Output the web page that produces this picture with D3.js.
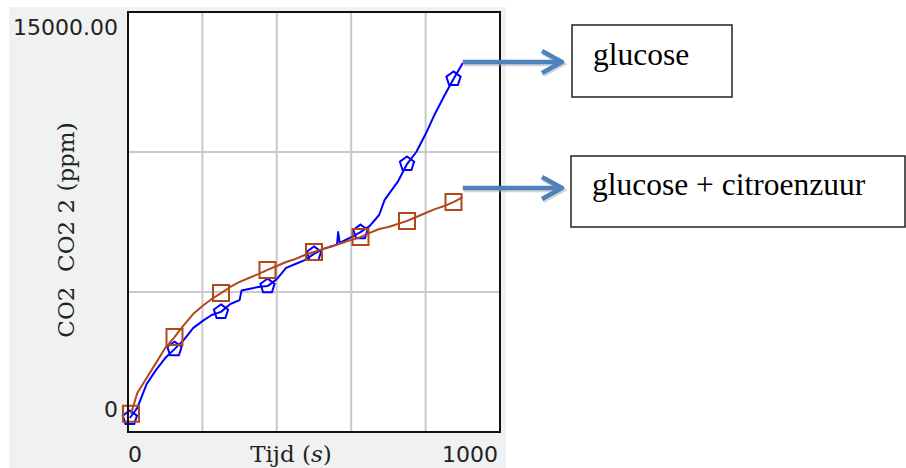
<!DOCTYPE html>
<html>
<head>
<meta charset="utf-8">
<script src="https://cdn.jsdelivr.net/npm/d3@7"></script>
<style>
  body { margin: 0; background: #fff; }
  svg { display: block; }
</style>
</head>
<body>
<div id="chart"></div>
<script>
// glucose (blauw) — tijd in s, CO2 in ppm
const glucoseTime = [5, 25, 50, 75, 100, 125, 150, 175, 200, 225, 250, 275, 300, 305, 325, 350, 375, 400, 425, 450, 475, 500, 525, 550, 562, 565, 569, 600, 625, 650, 675, 690, 700, 725, 750, 775, 800, 825, 850, 875, 900];
const glucoseCO2 = [500, 860, 1710, 2210, 2640, 2960, 3290, 3710, 3960, 4180, 4290, 4570, 4710, 5050, 5110, 5180, 5210, 5460, 5860, 6000, 6140, 6360, 6540, 6640, 6700, 7140, 6750, 6960, 7140, 7360, 7750, 8290, 8480, 8930, 9570, 10000, 10640, 11360, 12000, 12610, 13180];

// glucose + citroenzuur (bruin)
const citroenTime = [8, 25, 50, 75, 100, 125, 150, 175, 200, 225, 250, 275, 300, 325, 350, 375, 400, 425, 450, 475, 500, 525, 550, 575, 600, 625, 650, 675, 700, 725, 750, 775, 800, 825, 850, 875, 900];
const citroenCO2 = [650, 1390, 1930, 2460, 3000, 3390, 3820, 4210, 4500, 4750, 4960, 5180, 5360, 5500, 5640, 5790, 5930, 6070, 6180, 6320, 6430, 6540, 6640, 6750, 6860, 6960, 7110, 7250, 7320, 7430, 7540, 7680, 7820, 7960, 8070, 8210, 8390];

const markerTimes = [5, 8, 125, 250, 375, 500, 625, 750, 875];
const xGridTicks = [200, 400, 600, 800];
const yGridTicks = [5000, 10000];
const legendLabels = ['glucose', 'glucose + citroenzuur'];

const width = 906, height = 468;
const svg = d3.select('#chart').append('svg')
    .attr('width', width)
    .attr('height', height);

// grijs paneel
svg.append('rect')
    .attr('x', 9).attr('y', 7)
    .attr('width', 497).attr('height', 461)
    .attr('fill', '#f0f1f1');

const x = d3.scaleLinear().domain([0, 1000]).range([128, 500]);
const y = d3.scaleLinear().domain([0, 15000]).range([432, 12]);

svg.append('rect')
    .attr('x', x(0)).attr('y', y(15000))
    .attr('width', x(1000) - x(0)).attr('height', y(0) - y(15000))
    .attr('fill', '#fff');

svg.selectAll('.vgrid')
    .data(xGridTicks)
    .enter().append('line')
    .attr('x1', d => x(d)).attr('x2', d => x(d))
    .attr('y1', y(15000)).attr('y2', y(0))
    .attr('stroke', '#c9c9c9').attr('stroke-width', 2);

svg.selectAll('.hgrid')
    .data(yGridTicks)
    .enter().append('line')
    .attr('x1', x(0)).attr('x2', x(1000))
    .attr('y1', d => y(d)).attr('y2', d => y(d))
    .attr('stroke', '#c9c9c9').attr('stroke-width', 2);

const line = d3.line().x(d => x(d.t)).y(d => y(d.v));

const blue = glucoseTime.map((t, i) => ({ t, v: glucoseCO2[i] }));
const brown = citroenTime.map((t, i) => ({ t, v: citroenCO2[i] }));

const series = [
    { data: blue, color: '#0000ff', shape: 'pentagon' },
    { data: brown, color: '#b2481a', shape: 'square' }
];

// vijfhoek
function pentagon(r) {
    const pts = d3.range(5).map(i => {
        const a = -Math.PI / 2 + i * 2 * Math.PI / 5;
        return [r * Math.cos(a), r * Math.sin(a)];
    });
    return d3.line()(pts) + 'Z';
}

series.forEach(s => {
    svg.append('path')
        .datum(s.data)
        .attr('d', line)
        .attr('fill', 'none')
        .attr('stroke', s.color)
        .attr('stroke-width', 2)
        .attr('stroke-linejoin', 'round');

    const marks = s.data.filter(d => markerTimes.includes(d.t));
    svg.selectAll(null)
        .data(marks)
        .enter().append('path')
        .attr('transform', d => `translate(${x(d.t)},${y(d.v)})`)
        .attr('d', s.shape === 'square' ? 'M-8,-8H8V8H-8Z' : pentagon(7.5))
        .attr('fill', 'none')
        .attr('stroke', s.color)
        .attr('stroke-width', 2);
});

// kader
svg.append('rect')
    .attr('x', x(0)).attr('y', y(15000))
    .attr('width', x(1000) - x(0)).attr('height', y(0) - y(15000))
    .attr('fill', 'none')
    .attr('stroke', '#111').attr('stroke-width', 2);

// aslabels
const tickFont = "'DejaVu Sans', Verdana, sans-serif";
svg.append('text')
    .attr('x', x(0) - 10).attr('y', y(15000) + 23)
    .attr('text-anchor', 'end')
    .style('font-family', tickFont).style('font-size', '22px').attr('fill', '#222')
    .text('15000.00');
svg.append('text')
    .attr('x', x(0) - 10).attr('y', y(0) - 15)
    .attr('text-anchor', 'end')
    .style('font-family', tickFont).style('font-size', '22px').attr('fill', '#222')
    .text('0');
svg.append('text')
    .attr('x', x(0)).attr('y', 462)
    .attr('text-anchor', 'start')
    .style('font-family', tickFont).style('font-size', '22px').attr('fill', '#222')
    .text('0');
svg.append('text')
    .attr('x', x(1000) - 2).attr('y', 462)
    .attr('text-anchor', 'end')
    .style('font-family', tickFont).style('font-size', '22px').attr('fill', '#222')
    .text('1000');

const titleFont = "'DejaVu Serif', serif";
const xt = svg.append('text')
    .attr('x', 291).attr('y', 462)
    .attr('text-anchor', 'middle')
    .style('font-family', titleFont).style('font-size', '23px').attr('fill', '#222');
xt.append('tspan').text('Tijd (');
xt.append('tspan').style('font-style', 'italic').text('s');
xt.append('tspan').text(')');

svg.append('text')
    .attr('transform', 'translate(74,230) rotate(-90)')
    .attr('text-anchor', 'middle')
    .style('font-family', titleFont).style('font-size', '23px').attr('fill', '#222')
    .attr('xml:space', 'preserve')
    .style('white-space', 'pre')
    .text('CO2  CO2 2 (ppm)');

// legenda-kaders met pijlen
const boxes = [
    { label: legendLabels[0], x: 572, y: 25, w: 160, h: 72, ay: 62, ty: 65 },
    { label: legendLabels[1], x: 571, y: 156, w: 334, h: 71, ay: 188, ty: 195 }
];

boxes.forEach(b => {
    svg.append('rect')
        .attr('x', b.x).attr('y', b.y)
        .attr('width', b.w).attr('height', b.h)
        .attr('fill', '#fff')
        .attr('stroke', '#222').attr('stroke-width', 1.5);
    svg.append('text')
        .attr('x', b.x + 21).attr('y', b.ty)
        .style('font-family', "'Liberation Serif', 'Times New Roman', serif")
        .style('font-size', '31.5px').attr('fill', '#000')
        .text(b.label);

    const arrow = `M${x(900)},${b.ay}H561M542,${b.ay - 11}L562,${b.ay}L542,${b.ay + 11}`;
    svg.append('path')
        .attr('d', arrow)
        .attr('transform', 'translate(1,2)')
        .attr('fill', 'none')
        .attr('stroke', '#9aa0a8').attr('stroke-opacity', 0.45)
        .attr('stroke-width', 4.5);
    svg.append('path')
        .attr('d', arrow)
        .attr('fill', 'none')
        .attr('stroke', '#4f81bd')
        .attr('stroke-width', 4.5)
        .attr('stroke-linejoin', 'round');
});
</script>
</body>
</html>
